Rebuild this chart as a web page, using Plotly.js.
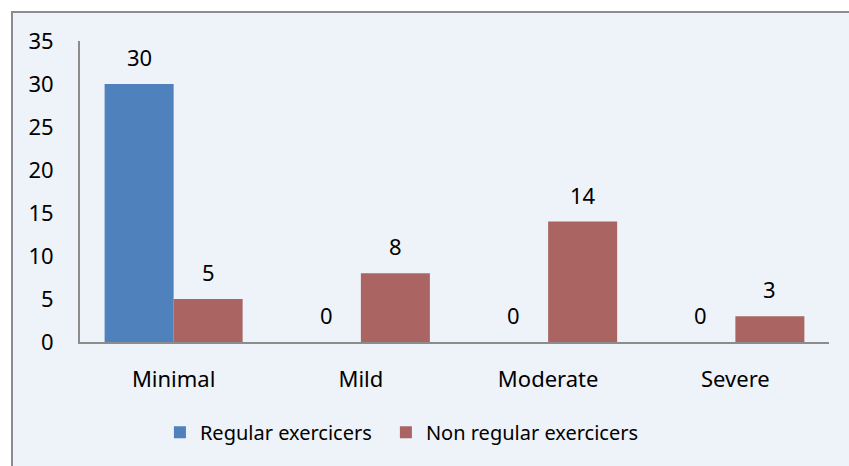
<!DOCTYPE html>
<html>
<head>
<meta charset="utf-8">
<script src="https://cdn.plot.ly/plotly-3.0.1.min.js"></script>
<style>
  html, body { margin: 0; padding: 0; background: #ffffff; width: 849px; height: 466px; overflow: hidden; }
  #chart { position: absolute; left: 11px; top: 11px; width: 836px; height: 453px; border-left: 2px solid #8c8c8c; border-top: 2px solid #8c8c8c; }
</style>
</head>
<body>
<div id="chart"></div>
<script>
const categories = ["Minimal", "Mild", "Moderate", "Severe"];
const regularValues = [30, 0, 0, 0];
const nonRegularValues = [5, 8, 14, 3];
const seriesNames = ["Regular exercicers", "Non regular exercicers"];
const yTicks = [0, 5, 10, 15, 20, 25, 30, 35];

const FONT = "Noto Sans, sans-serif";
const BAR_W = 69;

const traces = [
  { type: "bar", name: seriesNames[0], x: categories, y: regularValues,
    marker: { color: "#4F81BD" }, hoverinfo: "skip", legend: "legend" },
  { type: "bar", name: seriesNames[1], x: categories, y: nonRegularValues,
    marker: { color: "#AA6563" }, hoverinfo: "skip", legend: "legend2" }
];

const annotations = [];
[regularValues, nonRegularValues].forEach((vals, si) => {
  vals.forEach((v, i) => {
    annotations.push({
      x: categories[i], y: v, xref: "x", yref: "y",
      text: String(v), showarrow: false,
      xshift: si === 0 ? -BAR_W / 2 : BAR_W / 2,
      yshift: 27, yanchor: "middle",
      font: { family: FONT, size: 22, color: "#000000" }
    });
  });
});

const legendBase = {
  orientation: "h", xanchor: "left", y: -0.3, yanchor: "middle",
  bgcolor: "rgba(0,0,0,0)",
  font: { family: FONT, size: 20, color: "#000000" },
  itemwidth: 30
};

const layout = {
  width: 836, height: 453,
  margin: { l: 67, r: 20, t: 28, b: 124 },
  paper_bgcolor: "#EEF2F9",
  plot_bgcolor: "#EEF2F9",
  barmode: "group",
  bargap: 0.263,
  bargroupgap: 0,
  font: { family: FONT, size: 22, color: "#000000" },
  xaxis: {
    type: "category",
    showline: true, linecolor: "#8c8c8c", linewidth: 2,
    ticks: "", ticklabelstandoff: 17,
    showgrid: false, zeroline: false,
    tickfont: { family: FONT, size: 22, color: "#000000" }
  },
  yaxis: {
    range: [0, 35], tickvals: yTicks, ticktext: yTicks.map(String),
    showline: true, linecolor: "#8c8c8c", linewidth: 2,
    ticks: "", ticklabelstandoff: 20,
    showgrid: false, zeroline: false,
    tickfont: { family: FONT, size: 22, color: "#000000" }
  },
  showlegend: true,
  legend: Object.assign({}, legendBase, { x: 0.1067 }),
  legend2: Object.assign({}, legendBase, { x: 0.4084 }),
  annotations: annotations
};

Plotly.newPlot("chart", traces, layout, { staticPlot: true, displayModeBar: false });
</script>
</body>
</html>
